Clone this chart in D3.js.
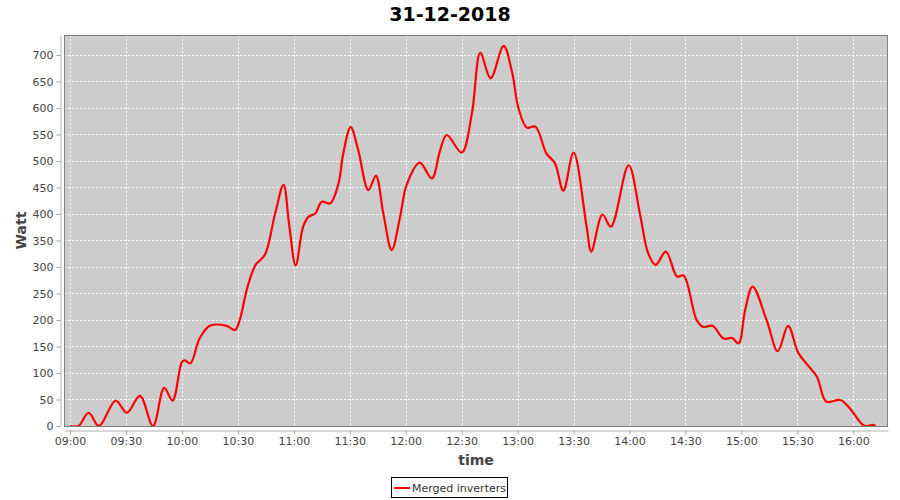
<!DOCTYPE html>
<html>
<head>
<meta charset="utf-8">
<script src="https://cdn.jsdelivr.net/npm/d3@7"></script>
<style>
  html, body { margin: 0; padding: 0; background: #fff; }
  svg { display: block; font-family: "DejaVu Sans", sans-serif; }
</style>
</head>
<body>
<svg id="chart" width="900" height="500"></svg>
<script>
// ---- data ----
const chartTitle = "31-12-2018";
const seriesName = "Merged inverters";
const times = [
  "09:00:00","09:04:30","09:10:00","09:15:30","09:24:30","09:30:30","09:37:30","09:44:30",
  "09:50:30","09:55:00","10:00:00","10:01:30","10:04:30","10:09:30","10:15:00","10:24:00",
  "10:28:30","10:31:00","10:35:00","10:39:30","10:44:30","10:50:00","10:54:30","10:57:30",
  "11:01:00","11:05:00","11:08:00","11:11:30","11:15:00","11:19:30","11:24:00","11:26:30",
  "11:30:30","11:34:30","11:40:00","11:44:00","11:48:00","11:52:30","11:57:00","12:00:30",
  "12:07:30","12:14:00","12:18:30","12:22:00","12:30:00","12:35:30","12:40:00","12:45:30",
  "12:52:30","12:57:00","13:00:30","13:05:00","13:09:30","13:15:30","13:20:00","13:24:30",
  "13:30:00","13:37:00","13:39:30","13:45:30","13:50:00","13:59:30","14:05:30","14:10:00",
  "14:14:00","14:19:30","14:25:30","14:29:00","14:36:00","14:39:30","14:44:30","14:50:30",
  "14:55:00","14:58:30","15:02:00","15:06:00","15:13:30","15:19:30","15:25:00","15:30:30",
  "15:35:30","15:40:30","15:45:30","15:53:00","15:57:30","16:04:30","16:06:30","16:10:30",
  "16:12:00"
];
const watts = [
  0, 0, 25, 0, 48, 25, 57, 0,
  72, 48, 121, 124, 118, 165, 189, 189,
  181, 200, 260, 304, 323, 401, 455, 380,
  303, 376, 395, 401, 423, 420, 458, 514,
  564, 521, 445, 472, 401, 332, 395, 455,
  497, 467, 521, 549, 516, 590, 704, 656,
  717, 668, 599, 563, 565, 514, 496, 444,
  516, 376, 329, 399, 376, 492, 402, 326,
  304, 329, 282, 284, 200, 187, 189, 165,
  166, 156, 219, 263, 200, 141, 189, 138,
  115, 93, 46, 49, 36, 4, 0, 2,
  0
];
const yTickValues = [0,50,100,150,200,250,300,350,400,450,500,550,600,650,700];
const xAxisLabel = "time";
const yAxisLabel = "Watt";

// ---- layout ----
const parse = d3.timeParse("%Y-%m-%d %H:%M:%S");
const day = "2018-12-31 ";
const data = times.map((t, i) => ({ t: parse(day + t), v: watts[i] }));

const plot = { left: 64, right: 888, top: 35, bottom: 426 };
const svg = d3.select("#chart");
svg.append("rect").attr("width", 900).attr("height", 500).attr("fill", "#fff");

const x = d3.scaleTime()
  .domain([parse(day + "08:56:47"), parse(day + "16:18:36")])
  .range([plot.left, plot.right]);
const y = d3.scaleLinear()
  .domain([0, 737.7])
  .range([plot.bottom, plot.top]);

const xTicks = x.ticks(d3.timeMinute.every(30));

// plot background
svg.append("rect")
  .attr("x", plot.left).attr("y", plot.top)
  .attr("width", plot.right - plot.left).attr("height", plot.bottom - plot.top)
  .attr("fill", "#cccccc");

// grid
const grid = svg.append("g").attr("stroke", "#ffffff").attr("stroke-width", 1)
  .attr("stroke-dasharray", "2,2").attr("opacity", 0.9);
grid.selectAll("line.h").data(yTickValues).join("line")
  .attr("x1", plot.left).attr("x2", plot.right)
  .attr("y1", d => Math.round(y(d)) + 0.5).attr("y2", d => Math.round(y(d)) + 0.5);
grid.selectAll("line.v").data(xTicks).join("line")
  .attr("y1", plot.top).attr("y2", plot.bottom)
  .attr("x1", d => Math.round(x(d)) + 0.5).attr("x2", d => Math.round(x(d)) + 0.5);

// clip
svg.append("clipPath").attr("id", "clip").append("rect")
  .attr("x", plot.left).attr("y", plot.top)
  .attr("width", plot.right - plot.left).attr("height", plot.bottom - plot.top);

// line
const line = d3.line()
  .x(d => x(d.t)).y(d => y(d.v))
  .curve(d3.curveCatmullRom.alpha(0.5));
svg.append("path")
  .datum(data)
  .attr("clip-path", "url(#clip)")
  .attr("fill", "none")
  .attr("stroke", "#ff0000")
  .attr("stroke-width", 2.2)
  .attr("stroke-linejoin", "round")
  .attr("d", line);

// plot outline
svg.append("rect")
  .attr("x", plot.left + 0.5).attr("y", plot.top + 0.5)
  .attr("width", plot.right - plot.left - 1).attr("height", plot.bottom - plot.top)
  .attr("fill", "none").attr("stroke", "#808080").attr("stroke-width", 1);

// y axis
const yAxis = svg.append("g")
  .attr("transform", "translate(60.5,0)")
  .call(d3.axisLeft(y).tickValues(yTickValues).tickSize(4).tickSizeOuter(0).tickPadding(3));
yAxis.select(".domain").attr("stroke", "#b0b0b0");
yAxis.selectAll(".tick line").attr("stroke", "#a0a0a0");
yAxis.selectAll(".tick text").attr("fill", "#444").style("font-size", "11px")
  .style("font-family", "'DejaVu Sans', sans-serif");

// x axis
const xAxis = svg.append("g")
  .attr("transform", "translate(0,430.5)")
  .call(d3.axisBottom(x).tickValues(xTicks).tickFormat(d3.timeFormat("%H:%M"))
    .tickSize(4).tickSizeOuter(0).tickPadding(3));
xAxis.select(".domain").attr("stroke", "#b0b0b0");
xAxis.selectAll(".tick line").attr("stroke", "#a0a0a0");
xAxis.selectAll(".tick text").attr("fill", "#444").style("font-size", "11px")
  .style("font-family", "'DejaVu Sans', sans-serif");

// title
svg.append("text")
  .attr("x", 450).attr("y", 21)
  .attr("text-anchor", "middle")
  .style("font-size", "19px").style("font-weight", "bold")
  .attr("fill", "#000")
  .text(chartTitle);

// axis labels
svg.append("text")
  .attr("x", (plot.left + plot.right) / 2).attr("y", 465)
  .attr("text-anchor", "middle")
  .style("font-size", "14px").style("font-weight", "bold")
  .attr("fill", "#444")
  .text(xAxisLabel);
svg.append("text")
  .attr("transform", `translate(26,${(plot.top + plot.bottom) / 2}) rotate(-90)`)
  .attr("text-anchor", "middle")
  .style("font-size", "14px").style("font-weight", "bold")
  .attr("fill", "#444")
  .text(yAxisLabel);

// legend
const lg = svg.append("g");
lg.append("rect").attr("x", 391.5).attr("y", 477.5).attr("width", 116).attr("height", 20)
  .attr("fill", "#fff").attr("stroke", "#000").attr("stroke-width", 1);
lg.append("line").attr("x1", 394).attr("x2", 410).attr("y1", 488).attr("y2", 488)
  .attr("stroke", "#ff0000").attr("stroke-width", 2);
lg.append("text").attr("x", 412).attr("y", 492)
  .style("font-size", "11px").attr("fill", "#333")
  .text(seriesName);
</script>
</body>
</html>
